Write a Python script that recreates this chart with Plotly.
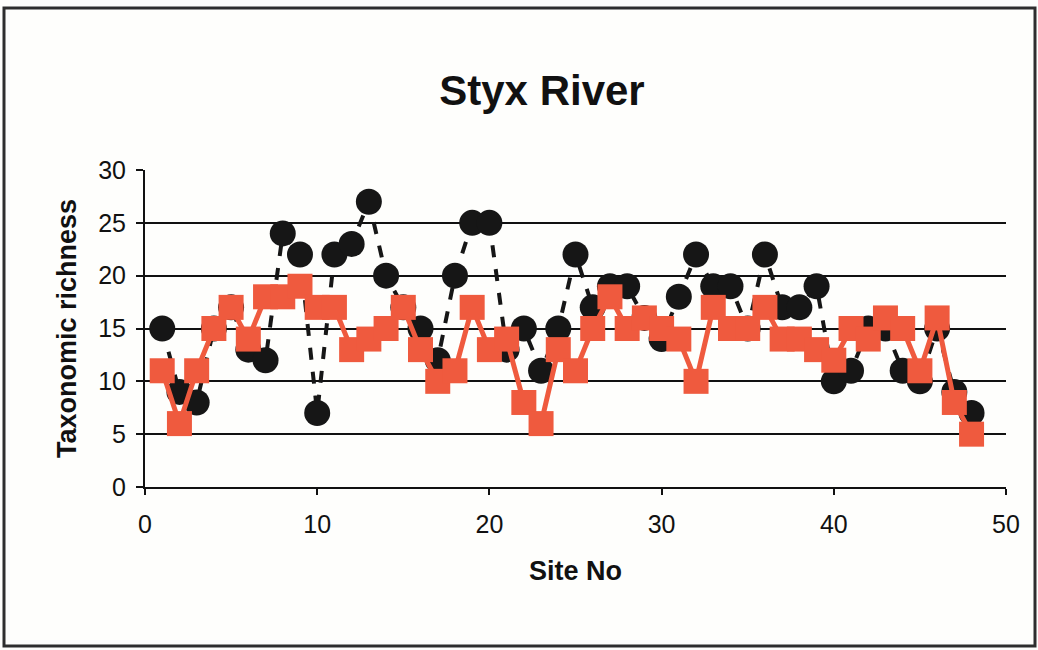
import plotly.graph_objects as go

# Site numbers along the Styx River
sites = [1, 2, 3, 4, 5, 6, 7, 8, 9, 10, 11, 12, 13, 14, 15, 16, 17, 18, 19, 20,
         21, 22, 23, 24, 25, 26, 27, 28, 29, 30, 31, 32, 33, 34, 35, 36, 37, 38, 39, 40,
         41, 42, 43, 44, 45, 46, 47, 48]

# Taxonomic richness, first survey (black circles, dashed line)
richness_a = [15, 9, 8, 15, 17, 13, 12, 24, 22, 7,
              22, 23, 27, 20, 17, 15, 12, 20, 25, 25,
              13, 15, 11, 15, 22, 17, 19, 19, 16, 14,
              18, 22, 19, 19, 15, 22, 17, 17, 19, 10,
              11, 15, 15, 11, 10, 15, 9, 7]

# Taxonomic richness, second survey (red squares, solid line)
richness_b = [11, 6, 11, 15, 17, 14, 18, 18, 19, 17,
              17, 13, 14, 15, 17, 13, 10, 11, 17, 13,
              14, 8, 6, 13, 11, 15, 18, 15, 16, 15,
              14, 10, 17, 15, 15, 17, 14, 14, 13, 12,
              15, 14, 16, 15, 11, 16, 8, 5]

x_ticks = [0, 10, 20, 30, 40, 50]
y_ticks = [0, 5, 10, 15, 20, 25, 30]

FONT = "Liberation Sans, Arial, sans-serif"
RED = "#EF5A3E"
BLACK = "#161616"

fig = go.Figure()
fig.add_trace(go.Scatter(
    x=sites, y=richness_a, mode="lines+markers",
    line=dict(color=BLACK, width=4, dash="dash"),
    marker=dict(symbol="circle", size=26, color=BLACK),
    showlegend=False,
))
fig.add_trace(go.Scatter(
    x=sites, y=richness_b, mode="lines+markers",
    line=dict(color=RED, width=5),
    marker=dict(symbol="square", size=25, color=RED),
    showlegend=False,
))

W, H = 1038, 650
L, R, T, B = 145, 32, 170, 163
pw, ph = W - L - R, H - T - B


def px_to_paper_x(px):
    return (px - L) / pw


def px_to_paper_y(py):
    return (H - B - py) / ph


# outer frame around the whole chart
fig.add_shape(type="rect", xref="paper", yref="paper",
              x0=px_to_paper_x(4), x1=px_to_paper_x(1035),
              y0=px_to_paper_y(646), y1=px_to_paper_y(8),
              line=dict(color="#2e2e2e", width=3), layer="below")

fig.update_layout(
    width=W, height=H,
    margin=dict(l=L, r=R, t=T, b=B),
    paper_bgcolor="#FEFEFC",
    plot_bgcolor="#FEFEFC",
    font=dict(family=FONT, color="#111111"),
    title=dict(text="<b>Styx River</b>", x=px_to_paper_x(542), xref="paper",
               xanchor="center", y=1 - 90 / H, yanchor="middle",
               font=dict(size=42, family=FONT, color="#111111")),
)
fig.update_xaxes(
    range=[0, 50], tickvals=x_ticks, ticks="outside", ticklen=6, tickwidth=2,
    tickcolor="#111111", showline=True, linecolor="#111111", linewidth=2,
    showgrid=False, zeroline=False, ticklabelstandoff=8,
    tickfont=dict(size=25, family=FONT),
    title=dict(text="<b>Site No</b>", font=dict(size=27, family=FONT), standoff=24),
)
fig.update_yaxes(
    range=[0, 30], tickvals=y_ticks, ticks="outside", ticklen=7, tickwidth=2,
    tickcolor="#111111", showline=True, linecolor="#111111", linewidth=2,
    showgrid=True, gridcolor="#111111", gridwidth=2, zeroline=False,
    ticklabelstandoff=5,
    tickfont=dict(size=25, family=FONT),
    title=dict(text="<b>Taxonomic richness</b>", font=dict(size=27, family=FONT), standoff=14),
)

fig.write_html("out.html")
